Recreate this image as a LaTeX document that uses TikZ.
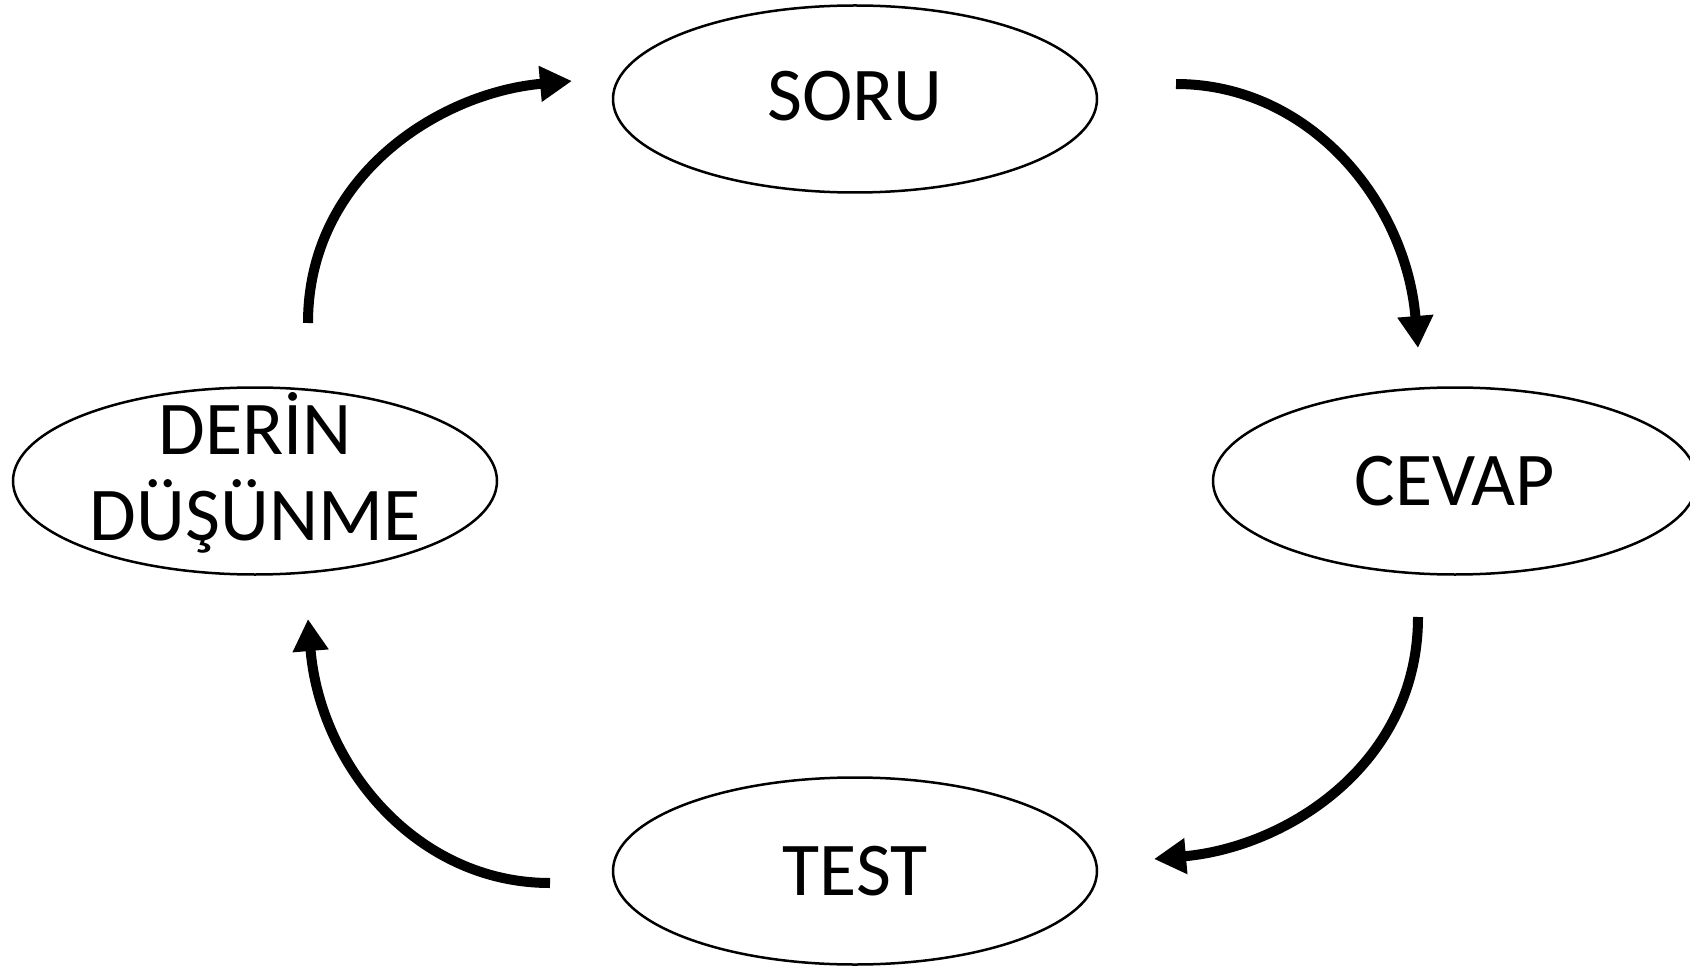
\documentclass[tikz,border=0pt]{standalone}
\usepackage{fontspec}
\setmainfont{Carlito}
\usetikzlibrary{shapes.geometric,arrows.meta}

\begin{document}
\begin{tikzpicture}[x=1pt,y=-1pt,
    stage/.style={ellipse, draw, line width=2.5pt, minimum width=484pt, minimum height=187pt,
      inner xsep=0pt, inner ysep=-30pt, align=center, font=\fontsize{76}{86}\selectfont},
    flow/.style={line width=10pt, -{Triangle[length=32pt,width=34pt]}}]
    \useasboundingbox (0,0) rectangle (1690,968);
    \node[stage] (soru) at (855,99) {\raisebox{6pt}{SORU}};
    \node[stage] (cevap) at (1455,481) {CEVAP};
    \node[stage] (test) at (855,871) {TEST};
    \node[stage] (derin) at (255,481) {DERİN\\DÜŞÜNME\rule[-30pt]{0pt}{0pt}};
    \coordinate (soru-out) at (1176,84);
    \coordinate (cevap-in) at (1418,348);
    \coordinate (cevap-out) at (1418,617);
    \coordinate (test-in) at (1154,859);
    \coordinate (test-out) at (550,883);
    \coordinate (derin-in) at (308,619);
    \coordinate (derin-out) at (308,323);
    \coordinate (soru-in) at (572,81);
    \draw[flow] (soru-out) .. controls +(134,0) and +(-12,-146) .. (cevap-in);
    \draw[flow] (cevap-out) .. controls +(0,146) and +(134,-12) .. (test-in);
    \draw[flow] (test-out) .. controls +(-134,0) and +(12,146) .. (derin-in);
    \draw[flow] (derin-out) .. controls +(0,-146) and +(-134,12) .. (soru-in);
\end{tikzpicture}
\end{document}
